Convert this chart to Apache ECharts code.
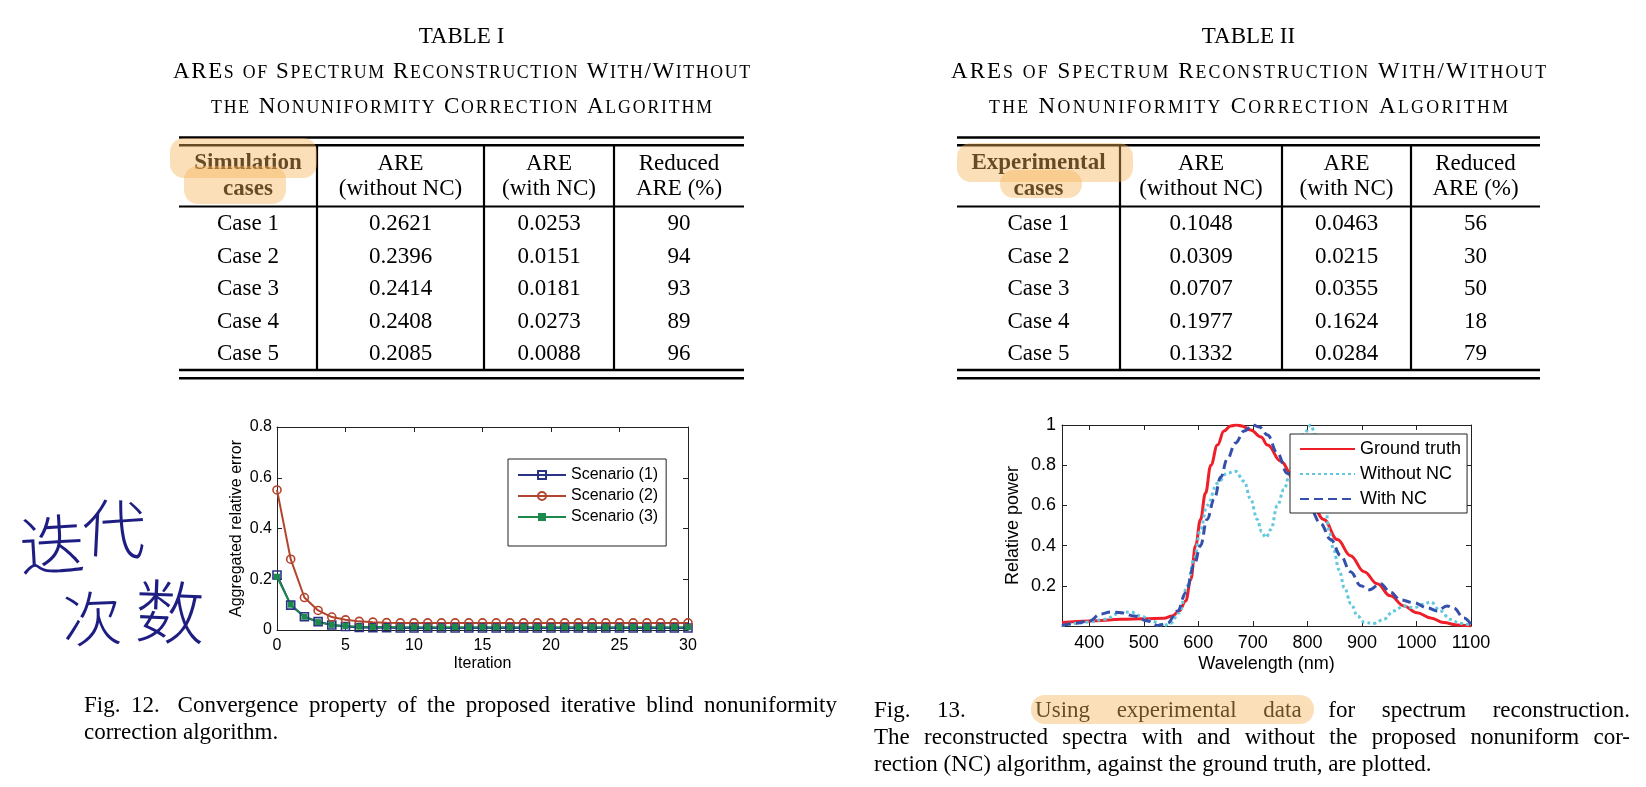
<!DOCTYPE html>
<html>
<head>
<meta charset="utf-8">
<title>AREs of spectrum reconstruction</title>
<script src="https://cdn.jsdelivr.net/npm/echarts@6/dist/echarts.min.js"></script>
<style>
html, body { margin: 0; padding: 0; background: #fff; }
#main { width: 1646px; height: 787px; }
</style>
</head>
<body>
<div id="main"></div>
<script>
// ---------- Table I / Table II ----------
const simHead = [['Simulation', 'cases'], ['ARE', '(without NC)'], ['ARE', '(with NC)'], ['Reduced', 'ARE (%)']]
const expHead = [['Experimental', 'cases'], ['ARE', '(without NC)'], ['ARE', '(with NC)'], ['Reduced', 'ARE (%)']]
const caseNames = ['Case 1', 'Case 2', 'Case 3', 'Case 4', 'Case 5']
const simAreWithout = ['0.2621', '0.2396', '0.2414', '0.2408', '0.2085']
const simAreWith = ['0.0253', '0.0151', '0.0181', '0.0273', '0.0088']
const simReduced = ['90', '94', '93', '89', '96']
const expAreWithout = ['0.1048', '0.0309', '0.0707', '0.1977', '0.1332']
const expAreWith = ['0.0463', '0.0215', '0.0355', '0.1624', '0.0284']
const expReduced = ['56', '30', '50', '18', '79']

// ---------- Fig. 12 ----------
const iterations = [0, 1, 2, 3, 4, 5, 6, 7, 8, 9, 10, 11, 12, 13, 14, 15, 16, 17, 18, 19, 20, 21, 22, 23, 24, 25, 26, 27, 28, 29, 30]
const scenario1 = [0.217, 0.098, 0.052, 0.033, 0.020, 0.014, 0.010, 0.009, 0.009, 0.008, 0.008, 0.008, 0.008, 0.008, 0.008, 0.008,
  0.008, 0.008, 0.008, 0.008, 0.008, 0.008, 0.008, 0.008, 0.008, 0.008, 0.008, 0.008, 0.008, 0.008, 0.008]
const scenario2 = [0.552, 0.279, 0.128, 0.077, 0.051, 0.040, 0.034, 0.031, 0.029, 0.028, 0.028, 0.028, 0.028, 0.028, 0.028, 0.028,
  0.028, 0.028, 0.028, 0.028, 0.028, 0.028, 0.028, 0.028, 0.028, 0.028, 0.028, 0.028, 0.028, 0.028, 0.028]
const scenario3 = [0.210, 0.100, 0.052, 0.031, 0.020, 0.016, 0.013, 0.012, 0.012, 0.011, 0.011, 0.011, 0.011, 0.011, 0.011, 0.011,
  0.011, 0.011, 0.011, 0.011, 0.011, 0.011, 0.011, 0.011, 0.011, 0.011, 0.011, 0.011, 0.011, 0.011, 0.011]

// ---------- Fig. 13 ----------
const gtWave = [350, 400, 460, 500, 537, 552, 565, 577, 586, 595, 604, 613, 623, 635, 647, 659, 670, 680, 696, 715, 727, 751, 776,
  806, 830, 855, 879, 904, 928, 952, 977, 1001, 1026, 1050, 1074, 1100]
const gtPower = [0.017, 0.025, 0.033, 0.036, 0.038, 0.05, 0.075, 0.125, 0.23, 0.4, 0.53, 0.66, 0.8, 0.9, 0.97, 0.995, 1.0, 0.995, 0.975,
  0.94, 0.9, 0.82, 0.73, 0.62, 0.53, 0.43, 0.35, 0.27, 0.21, 0.15, 0.10, 0.066, 0.04, 0.017, 0.005, 0.0]
const withoutWave = [350, 373, 400, 427, 458, 476, 495, 513, 537, 549, 565, 580, 592, 604, 616, 635, 653, 668, 684, 696, 708, 716, 724,
  733, 745, 757, 770, 782, 794, 806, 815, 825, 832, 840, 848, 858, 868, 880, 892, 905, 922, 940, 958, 977, 995, 1013, 1026, 1044, 1062,
  1080, 1100]
const withoutPower = [0.0, 0.013, 0.02, 0.033, 0.066, 0.07, 0.05, 0.025, 0.003, 0.013, 0.066, 0.2, 0.33, 0.48, 0.6, 0.71, 0.76, 0.77,
  0.72, 0.63, 0.53, 0.47, 0.44, 0.48, 0.6, 0.68, 0.78, 0.88, 0.955, 1.0, 0.95, 0.8, 0.62, 0.47, 0.38, 0.28, 0.19, 0.11, 0.05, 0.017,
  0.013, 0.033, 0.075, 0.1, 0.09, 0.108, 0.12, 0.075, 0.033, 0.013, 0.003]
const withWave = [350, 373, 400, 421, 440, 458, 482, 507, 525, 543, 562, 577, 592, 604, 616, 629, 641, 653, 668, 684, 700, 712, 727,
  745, 763, 782, 806, 824, 843, 861, 879, 898, 913, 934, 952, 970, 995, 1020, 1038, 1056, 1068, 1087, 1100]
const withPower = [0.003, 0.013, 0.025, 0.06, 0.07, 0.066, 0.05, 0.025, 0.003, 0.013, 0.075, 0.166, 0.3, 0.4, 0.53, 0.63, 0.74, 0.83,
  0.91, 0.97, 1.0, 0.99, 0.95, 0.86, 0.76, 0.67, 0.58, 0.51, 0.43, 0.35, 0.27, 0.2, 0.18, 0.21, 0.17, 0.13, 0.116, 0.09, 0.075, 0.1,
  0.09, 0.04, 0.008]
const waveTicks = [400, 500, 600, 700, 800, 900, 1000, 1100]
const powerTicks = [0.2, 0.4, 0.6, 0.8, 1]

// ---------- captions ----------
const fig12Lines = ['Fig. 12. Convergence property of the proposed iterative blind nonuniformity', 'correction algorithm.']
const fig13Lines = ['Fig. 13. Using experimental data for spectrum reconstruction.',
  'The reconstructed spectra with and without the proposed nonuniform cor-',
  'rection (NC) algorithm, against the ground truth, are plotted.']

const serif = '"Liberation Serif", "Times New Roman", serif'
const sans = '"Liberation Sans", Arial, sans-serif'
const mctx = document.createElement('canvas').getContext('2d')
function textWidth (str, size, weight) {
  mctx.font = (weight || 'normal') + ' ' + size + 'px ' + serif
  return mctx.measureText(str).width
}
// text placed by its baseline
function txt (str, x, baseline, size, opts) {
  opts = opts || {}
  return {
    type: 'text',
    x: x,
    y: baseline - 0.26 * size,
    z: opts.z || 1,
    rotation: opts.rotation || 0,
    style: {
      text: str,
      fill: opts.color || '#000',
      font: (opts.weight || 'normal') + ' ' + size + 'px ' + (opts.family || serif),
      textAlign: opts.align || 'center',
      textVerticalAlign: 'middle'
    }
  }
}
function hline (x1, x2, y, w) {
  return { type: 'line', shape: { x1: x1, y1: y, x2: x2, y2: y }, style: { stroke: '#000', lineWidth: w } }
}
function vline (x, y1, y2, w) {
  return { type: 'line', shape: { x1: x, y1: y1, x2: x, y2: y2 }, style: { stroke: '#000', lineWidth: w } }
}
function blob (x, y, w, h) {
  return { type: 'rect', z: 5, shape: { x: x, y: y, width: w, height: h, r: Math.min(14, h / 2) }, style: { fill: 'rgba(245,178,88,0.42)' } }
}

// small caps, letter spacing stretched to the width in the picture
function smallCaps (str, cx, baseline, big, small, target) {
  const glyphs = []
  for (const ch of str) {
    const isSmall = ch >= 'a' && ch <= 'z'
    const g = isSmall ? ch.toUpperCase() : ch
    const size = isSmall ? small : big
    glyphs.push({ g: g, size: size, w: textWidth(g, size) })
  }
  const natural = glyphs.reduce((s, g) => s + g.w, 0)
  const extra = (target - natural) / (glyphs.length - 1)
  let x = cx - target / 2
  const out = []
  glyphs.forEach(g => {
    if (g.g !== ' ') out.push(txt(g.g, x, baseline, g.size, { align: 'left' }))
    x += g.w + extra
  })
  return out
}

// justified line; wide[] gives extra weight to the gap after a word
function justify (str, x0, x1, baseline, size, wide) {
  const words = str.split(/\s+/)
  const widths = words.map(w => textWidth(w, size))
  const total = widths.reduce((a, b) => a + b, 0)
  const weights = words.slice(0, -1).map((w, i) => (wide && wide[i]) || 1)
  const gap = (x1 - x0 - total) / weights.reduce((a, b) => a + b, 0)
  let x = x0
  return words.map((w, i) => {
    const el = txt(w, x, baseline, size, { align: 'left' })
    x += widths[i] + gap * (weights[i] || 0)
    return el
  })
}

function buildTable (title, left, right, bounds, head, col2, col3, col4) {
  const cx = (left + right) / 2
  const els = []
  els.push(txt(title, cx, 42.5, 23))
  els.push(...smallCaps('AREs of Spectrum Reconstruction With/Without', cx, 78, 23, 17.8, right - left + 12))
  els.push(...smallCaps('the Nonuniformity Correction Algorithm', cx, 112.5, 23, 17.8, right - left - 64))
  els.push(hline(left, right, 137.5, 2.6), hline(left, right, 145.3, 2.6))
  els.push(hline(left, right, 206.5, 2.2))
  els.push(hline(left, right, 370, 2.6), hline(left, right, 378.3, 2.6))
  bounds.forEach(b => els.push(vline(b, 145, 370, 2.2)))
  const edges = [left].concat(bounds).concat([right])
  const centers = head.map((h, i) => (edges[i] + edges[i + 1]) / 2)
  head.forEach((h, i) => {
    const w = i === 0 ? 'bold' : 'normal'
    els.push(txt(h[0], centers[i], 169.5, 23, { weight: w }))
    els.push(txt(h[1], centers[i], 195, 23, { weight: w }))
  })
  caseNames.forEach((c, r) => {
    const y = 230 + r * 32.6
    els.push(txt(c, centers[0], y, 23))
    els.push(txt(col2[r], centers[1], y, 23))
    els.push(txt(col3[r], centers[2], y, 23))
    els.push(txt(col4[r], centers[3], y, 23))
  })
  return els
}

const graphics = []
graphics.push(...buildTable('TABLE I', 179, 744, [317, 484, 614], simHead, simAreWithout, simAreWith, simReduced))
graphics.push(...buildTable('TABLE II', 957, 1540, [1120, 1282, 1411], expHead, expAreWithout, expAreWith, expReduced))
graphics.push(blob(170, 138, 147, 40), blob(184, 166, 102, 38))
graphics.push(blob(957, 143, 176, 39), blob(1000, 170, 82, 28))

graphics.push(...justify(fig12Lines[0], 84, 837, 712, 23, [0, 1.7]))
graphics.push(txt(fig12Lines[1], 84, 739, 23, { align: 'left' }))
graphics.push(...justify(fig13Lines[0], 874, 1630, 717, 23, [0, 2.6]))
graphics.push(...justify(fig13Lines[1], 874, 1630, 744, 23))
graphics.push(txt(fig13Lines[2], 874, 771, 23, { align: 'left' }))
graphics.push(blob(1031, 695, 283, 29))

// handwritten note
const ink = { family: '"Noto Sans CJK SC", sans-serif', color: '#1d1d82', weight: '200' }
graphics.push(txt('迭', 52, 562, 66, Object.assign({ rotation: 0.06 }, ink)))
graphics.push(txt('代', 114, 545, 64, Object.assign({ rotation: -0.05 }, ink)))
graphics.push(txt('次', 92, 634, 60, Object.assign({ rotation: 0.04 }, ink)))
graphics.push(txt('数', 170, 630, 70, Object.assign({ rotation: -0.04 }, ink)))

// ---------- charts ----------
const axisBase = (fs) => ({
  axisLine: { show: true, onZero: false, lineStyle: { color: '#222', width: 1 } },
  axisTick: { show: true, inside: true, length: 5, lineStyle: { color: '#222' } },
  splitLine: { show: false },
  axisLabel: { color: '#000', fontSize: fs, fontFamily: sans, formatter: v => String(+v.toFixed(2)) }
})
const boxAxis = (extra, fs) => Object.assign(axisBase(fs), extra, { axisLabel: { show: false } })
const nameStyle = (fs) => ({ color: '#000', fontSize: fs, fontFamily: sans })

const xAxes = [
  Object.assign(axisBase(16), { gridIndex: 0, type: 'value', position: 'bottom', min: 0, max: 30, interval: 5,
    name: 'Iteration', nameLocation: 'middle', nameGap: 26, nameTextStyle: nameStyle(16) }),
  boxAxis({ gridIndex: 0, type: 'value', position: 'top', min: 0, max: 30, interval: 5 }, 16),
  Object.assign(axisBase(18), { gridIndex: 1, type: 'value', position: 'bottom', min: 350, max: 1100,
    name: 'Wavelength (nm)', nameLocation: 'middle', nameGap: 29, nameTextStyle: nameStyle(18) }),
  boxAxis({ gridIndex: 1, type: 'value', position: 'top', min: 350, max: 1100 }, 18)
]
xAxes[2].axisLabel.customValues = waveTicks
xAxes[2].axisTick.customValues = waveTicks
xAxes[3].axisTick.customValues = waveTicks

const yAxes = [
  Object.assign(axisBase(16), { gridIndex: 0, type: 'value', position: 'left', min: 0, max: 0.8, interval: 0.2,
    name: 'Aggregated relative error', nameLocation: 'middle', nameGap: 32, nameTextStyle: nameStyle(16) }),
  boxAxis({ gridIndex: 0, type: 'value', position: 'right', min: 0, max: 0.8, interval: 0.2 }, 16),
  Object.assign(axisBase(18), { gridIndex: 1, type: 'value', position: 'left', min: 0, max: 1,
    name: 'Relative power', nameLocation: 'middle', nameGap: 40, nameTextStyle: nameStyle(18) }),
  boxAxis({ gridIndex: 1, type: 'value', position: 'right', min: 0, max: 1 }, 18)
]
yAxes[0].axisLabel.margin = 5
yAxes[2].axisLabel.margin = 6
yAxes[2].axisLabel.customValues = powerTicks
yAxes[2].axisTick.customValues = powerTicks
yAxes[3].axisTick.customValues = powerTicks

const pairs = (xs, ys) => xs.map((x, i) => [x, ys[i]])

const chart = echarts.init(document.getElementById('main'), null, { renderer: 'canvas' })
chart.setOption({
  backgroundColor: '#fff',
  animation: false,
  grid: [
    { left: 277, top: 427, width: 411, height: 203 },
    { left: 1062, top: 425, width: 409, height: 201 }
  ],
  xAxis: xAxes,
  yAxis: yAxes,
  legend: [
    {
      data: ['Scenario (1)', 'Scenario (2)', 'Scenario (3)'],
      orient: 'vertical', left: 508, top: 459,
      padding: [8, 8, 21, 9], itemGap: 5, itemWidth: 48, itemHeight: 10,
      backgroundColor: '#fff', borderColor: '#222', borderWidth: 1,
      textStyle: { fontSize: 16, fontFamily: sans, color: '#000' }
    },
    {
      data: ['Ground truth', 'Without NC', 'With NC'],
      orient: 'vertical', left: 1290, top: 434,
      padding: [6, 6, 5, 9], itemGap: 7, itemWidth: 55, itemHeight: 12,
      backgroundColor: '#fff', borderColor: '#222', borderWidth: 1,
      textStyle: { fontSize: 18, fontFamily: sans, color: '#000' }
    }
  ],
  series: [
    {
      name: 'Scenario (1)', type: 'line', xAxisIndex: 0, yAxisIndex: 0,
      data: pairs(iterations, scenario1),
      symbol: 'rect', symbolSize: 8,
      lineStyle: { color: '#2b3385', width: 2 },
      itemStyle: { color: 'rgba(255,255,255,0)', borderColor: '#2b3385', borderWidth: 1.6 }
    },
    {
      name: 'Scenario (2)', type: 'line', xAxisIndex: 0, yAxisIndex: 0,
      data: pairs(iterations, scenario2),
      symbol: 'circle', symbolSize: 8,
      lineStyle: { color: '#b2452d', width: 2 },
      itemStyle: { color: 'rgba(255,255,255,0)', borderColor: '#b2452d', borderWidth: 1.6 }
    },
    {
      name: 'Scenario (3)', type: 'line', xAxisIndex: 0, yAxisIndex: 0,
      data: pairs(iterations, scenario3),
      symbol: 'rect', symbolSize: 6,
      lineStyle: { color: '#1c8a4a', width: 2 },
      itemStyle: { color: '#1c8a4a' }
    },
    {
      name: 'Ground truth', type: 'line', xAxisIndex: 2, yAxisIndex: 2,
      data: pairs(gtWave, gtPower), showSymbol: false,
      smooth: 0.4, smoothMonotone: 'x',
      lineStyle: { color: '#ee1f29', width: 3 }, itemStyle: { color: '#ee1f29', opacity: 0 }
    },
    {
      name: 'Without NC', type: 'line', xAxisIndex: 2, yAxisIndex: 2,
      data: pairs(withoutWave, withoutPower), showSymbol: false,
      smooth: 0.4, smoothMonotone: 'x',
      lineStyle: { color: '#62c8de', width: 3, type: [3, 3] }, itemStyle: { color: '#62c8de', opacity: 0 }
    },
    {
      name: 'With NC', type: 'line', xAxisIndex: 2, yAxisIndex: 2,
      data: pairs(withWave, withPower), showSymbol: false,
      smooth: 0.4, smoothMonotone: 'x',
      lineStyle: { color: '#3450aa', width: 3, type: [9, 5] }, itemStyle: { color: '#3450aa', opacity: 0 }
    }
  ],
  graphic: graphics
})
</script>
</body>
</html>
